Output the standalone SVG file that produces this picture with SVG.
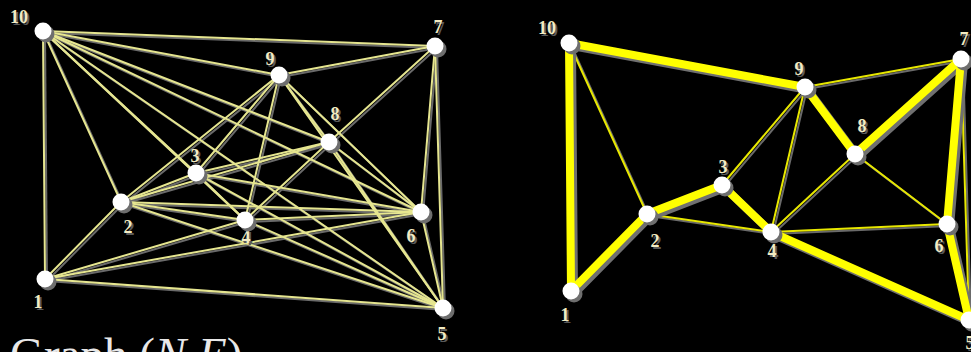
<svg xmlns="http://www.w3.org/2000/svg" xmlns:xlink="http://www.w3.org/1999/xlink" width="971" height="352" viewBox="0 0 971 352">
<style>
.bg{fill:#000}
.e{stroke-linecap:round}
.thin{stroke-width:2}
.thick{stroke-width:8}
.nd{fill:#fff}
.ns{fill:#6e6e6e}
.lb{font-family:"Liberation Serif","Times New Roman",serif;font-size:18px;font-weight:bold;text-anchor:middle;fill:#f3ebc2}
.ls{font-family:"Liberation Serif","Times New Roman",serif;font-size:18px;font-weight:bold;text-anchor:middle;fill:#5a5a5a}
.title{font-family:"Liberation Serif","Times New Roman",serif;font-size:47px;fill:#e8e8e8}
</style>
<defs>
<g id="leftEdges" class="e thin">
<line x1="43" y1="31" x2="45" y2="279"/>
<line x1="43" y1="31" x2="121" y2="202"/>
<line x1="43" y1="31" x2="196" y2="173"/>
<line x1="43" y1="31" x2="245" y2="220"/>
<line x1="43" y1="31" x2="443" y2="308"/>
<line x1="43" y1="31" x2="421" y2="212"/>
<line x1="43" y1="31" x2="435" y2="46"/>
<line x1="43" y1="31" x2="329" y2="142"/>
<line x1="43" y1="31" x2="279" y2="75"/>
<line x1="45" y1="279" x2="121" y2="202"/>
<line x1="45" y1="279" x2="245" y2="220"/>
<line x1="45" y1="279" x2="421" y2="212"/>
<line x1="45" y1="279" x2="443" y2="308"/>
<line x1="121" y1="202" x2="196" y2="173"/>
<line x1="121" y1="202" x2="245" y2="220"/>
<line x1="121" y1="202" x2="443" y2="308"/>
<line x1="121" y1="202" x2="421" y2="212"/>
<line x1="121" y1="202" x2="329" y2="142"/>
<line x1="121" y1="202" x2="279" y2="75"/>
<line x1="196" y1="173" x2="245" y2="220"/>
<line x1="196" y1="173" x2="443" y2="308"/>
<line x1="196" y1="173" x2="421" y2="212"/>
<line x1="196" y1="173" x2="329" y2="142"/>
<line x1="196" y1="173" x2="279" y2="75"/>
<line x1="245" y1="220" x2="443" y2="308"/>
<line x1="245" y1="220" x2="421" y2="212"/>
<line x1="245" y1="220" x2="329" y2="142"/>
<line x1="245" y1="220" x2="279" y2="75"/>
<line x1="443" y1="308" x2="421" y2="212"/>
<line x1="443" y1="308" x2="435" y2="46"/>
<line x1="443" y1="308" x2="329" y2="142"/>
<line x1="443" y1="308" x2="279" y2="75"/>
<line x1="421" y1="212" x2="435" y2="46"/>
<line x1="421" y1="212" x2="329" y2="142"/>
<line x1="421" y1="212" x2="279" y2="75"/>
<line x1="435" y1="46" x2="329" y2="142"/>
<line x1="435" y1="46" x2="279" y2="75"/>
<line x1="329" y1="142" x2="279" y2="75"/>
</g>
<g id="rightThin" class="e thin">
<line x1="569" y1="43" x2="647" y2="214"/>
<line x1="805" y1="87" x2="722" y2="185"/>
<line x1="805" y1="87" x2="771" y2="232"/>
<line x1="805" y1="87" x2="961" y2="59"/>
<line x1="855" y1="154" x2="771" y2="232"/>
<line x1="855" y1="154" x2="947" y2="224"/>
<line x1="771" y1="232" x2="947" y2="224"/>
<line x1="647" y1="214" x2="771" y2="232"/>
<line x1="961" y1="59" x2="969" y2="320"/>
</g>
<g id="rightTour" class="e thick">
<polyline fill="none" stroke-linejoin="round" points="571,291 647,214 722,185 771,232 969,320 947,224 961,59 855,154 805,87 569,43 571,291"/>
</g>
</defs>
<rect class="bg" x="0" y="0" width="971" height="352"/>
<g id="connectors">
<use xlink:href="#leftEdges" href="#leftEdges" transform="translate(2,2)" stroke="#6a6a6a"/>
<use xlink:href="#leftEdges" href="#leftEdges" stroke="#e6e690"/>
<use xlink:href="#rightThin" href="#rightThin" transform="translate(2,2)" stroke="#6a6a6a"/>
<use xlink:href="#rightThin" href="#rightThin" stroke="#e8e800"/>
<use xlink:href="#rightTour" href="#rightTour" transform="translate(3,3)" stroke="#707070"/>
<use xlink:href="#rightTour" href="#rightTour" stroke="#ffff00"/>
</g>
<g id="L10"><circle class="ns" cx="46" cy="34" r="8.5"/><circle class="nd" cx="43" cy="31" r="8.5"/><text class="ls" x="21" y="25">10</text><text class="lb" x="19" y="23">10</text></g>
<g id="L9"><circle class="ns" cx="282" cy="78" r="8.5"/><circle class="nd" cx="279" cy="75" r="8.5"/><text class="ls" x="272" y="67">9</text><text class="lb" x="270" y="65">9</text></g>
<g id="L7"><circle class="ns" cx="438" cy="49" r="8.5"/><circle class="nd" cx="435" cy="46" r="8.5"/><text class="ls" x="440" y="35">7</text><text class="lb" x="438" y="33">7</text></g>
<g id="L8"><circle class="ns" cx="332" cy="145" r="8.5"/><circle class="nd" cx="329" cy="142" r="8.5"/><text class="ls" x="337" y="122">8</text><text class="lb" x="335" y="120">8</text></g>
<g id="L3"><circle class="ns" cx="199" cy="176" r="8.5"/><circle class="nd" cx="196" cy="173" r="8.5"/><text class="ls" x="197" y="164">3</text><text class="lb" x="195" y="162">3</text></g>
<g id="L2"><circle class="ns" cx="124" cy="205" r="8.5"/><circle class="nd" cx="121" cy="202" r="8.5"/><text class="ls" x="130" y="235">2</text><text class="lb" x="128" y="233">2</text></g>
<g id="L4"><text class="ls" x="248" y="245">4</text><text class="lb" x="246" y="243">4</text><circle class="ns" cx="248" cy="223" r="8.5"/><circle class="nd" cx="245" cy="220" r="8.5"/></g>
<g id="L6"><circle class="ns" cx="424" cy="215" r="8.5"/><circle class="nd" cx="421" cy="212" r="8.5"/><text class="ls" x="413" y="244">6</text><text class="lb" x="411" y="242">6</text></g>
<g id="L1"><circle class="ns" cx="48" cy="282" r="8.5"/><circle class="nd" cx="45" cy="279" r="8.5"/><text class="ls" x="40" y="310">1</text><text class="lb" x="38" y="308">1</text></g>
<g id="L5"><circle class="ns" cx="446" cy="311" r="8.5"/><circle class="nd" cx="443" cy="308" r="8.5"/><text class="ls" x="444" y="342">5</text><text class="lb" x="442" y="340">5</text></g>
<g id="R10"><circle class="ns" cx="572" cy="46" r="8.5"/><circle class="nd" cx="569" cy="43" r="8.5"/><text class="ls" x="549" y="36">10</text><text class="lb" x="547" y="34">10</text></g>
<g id="R9"><circle class="ns" cx="808" cy="90" r="8.5"/><circle class="nd" cx="805" cy="87" r="8.5"/><text class="ls" x="801" y="77">9</text><text class="lb" x="799" y="75">9</text></g>
<g id="R7"><circle class="ns" cx="964" cy="62" r="8.5"/><circle class="nd" cx="961" cy="59" r="8.5"/><text class="ls" x="966" y="47">7</text><text class="lb" x="964" y="45">7</text></g>
<g id="R8"><circle class="ns" cx="858" cy="157" r="8.5"/><circle class="nd" cx="855" cy="154" r="8.5"/><text class="ls" x="864" y="134">8</text><text class="lb" x="862" y="132">8</text></g>
<g id="R3"><circle class="ns" cx="725" cy="188" r="8.5"/><circle class="nd" cx="722" cy="185" r="8.5"/><text class="ls" x="725" y="175">3</text><text class="lb" x="723" y="173">3</text></g>
<g id="R2"><circle class="ns" cx="650" cy="217" r="8.5"/><circle class="nd" cx="647" cy="214" r="8.5"/><text class="ls" x="657" y="249">2</text><text class="lb" x="655" y="247">2</text></g>
<g id="R4"><circle class="ns" cx="774" cy="235" r="8.5"/><circle class="nd" cx="771" cy="232" r="8.5"/><text class="ls" x="774" y="259">4</text><text class="lb" x="772" y="257">4</text></g>
<g id="R6"><circle class="ns" cx="950" cy="227" r="8.5"/><circle class="nd" cx="947" cy="224" r="8.5"/><text class="ls" x="941" y="254">6</text><text class="lb" x="939" y="252">6</text></g>
<g id="R1"><circle class="ns" cx="574" cy="294" r="8.5"/><circle class="nd" cx="571" cy="291" r="8.5"/><text class="ls" x="567" y="323">1</text><text class="lb" x="565" y="321">1</text></g>
<g id="R5"><circle class="ns" cx="972" cy="323" r="8.5"/><circle class="nd" cx="969" cy="320" r="8.5"/><text class="ls" x="972" y="351">5</text><text class="lb" x="970" y="349">5</text></g>
<text class="title" x="10" y="370">Graph (<tspan font-style="italic">N</tspan>,<tspan font-style="italic">E</tspan>)</text>
</svg>
